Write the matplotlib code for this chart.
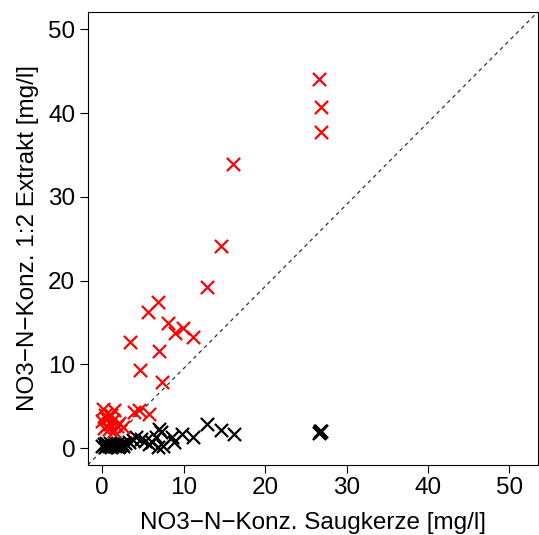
import numpy as np
import matplotlib
matplotlib.use("Agg")
import matplotlib.pyplot as plt

plt.rcParams['font.family'] = ['Liberation Sans', 'DejaVu Sans']

# Extrakt 1:2 vs. Saugkerze (red)
red_x = [26.6, 26.9, 26.8, 16.1, 14.6, 12.8, 6.8, 5.6, 8.1, 9.9, 8.9, 11.1,
         3.4, 7.0, 4.6, 7.3, 3.9, 4.5, 5.7,
         0.1, 1.5, 0.3, 0.0, 0.6, 1.0, 0.4, 1.3, 1.8, 0.8, 2.1, 1.5, 0.2, 2.6, 1.1]
red_y = [44.1, 40.7, 37.7, 33.9, 24.1, 19.2, 17.5, 16.3, 14.9, 14.4, 13.7, 13.3,
         12.7, 11.6, 9.3, 7.9, 4.3, 4.5, 4.1,
         4.7, 4.5, 3.9, 3.2, 3.5, 2.9, 2.7, 3.4, 2.6, 2.3, 3.0, 2.1, 2.4, 2.5, 4.0]

# second series (black)
blk_x = [0.0, 0.2, 0.4, 0.6, 0.8, 1.0, 1.2, 1.4, 1.6, 1.8, 2.0, 2.2, 2.5, 2.8,
         0.3, 1.1, 1.9, 0.5, 1.5, 2.4,
         3.3, 3.8, 4.1, 4.7, 5.3, 5.7, 6.1, 6.6, 6.8, 7.0, 7.2, 7.4, 8.6, 8.8,
         9.8, 11.1, 12.9, 14.6, 16.2,
         26.7, 26.8, 26.6, 26.7]
blk_y = [0.3, 0.5, 0.2, 0.4, 0.3, 0.6, 0.2, 0.4, 0.3, 0.5, 0.2, 0.4, 0.3, 0.6,
         0.1, 0.1, 0.1, 0.6, 0.6, 0.5,
         0.7, 1.0, 1.3, 1.1, 0.9, 0.5, 0.7, 1.3, 0.1, 2.3, 1.9, 0.3, 1.3, 0.7,
         1.7, 1.3, 2.9, 2.2, 1.7,
         1.9, 2.0, 1.8, 2.1]

ticks = [0, 10, 20, 30, 40, 50]

fig = plt.figure(figsize=(5.39, 5.35), dpi=100)
ax = fig.add_axes([0.163, 0.131, 0.835, 0.847])

ax.scatter(blk_x, blk_y, marker='x', s=90, color='black', linewidths=1.6, zorder=3)
ax.scatter(red_x, red_y, marker='x', s=90, color='red', linewidths=1.6, zorder=3)

# 1:1 line
ax.plot([0, 1], [0, 1], transform=ax.transAxes, color='#333333',
        linestyle=(0, (3, 3)), linewidth=0.9, zorder=2)

ax.set_xlim(-1.77, 53.5)
ax.set_ylim(-2.0, 52.1)
ax.set_xticks(ticks)
ax.set_yticks(ticks)
ax.tick_params(direction='out', length=6, width=0.8, labelsize=17.5, pad=3)
for s in ax.spines.values():
    s.set_linewidth(0.8)

ax.set_xlabel('NO3\u2212N\u2212Konz. Saugkerze [mg/l]', fontsize=17.5, labelpad=9)
ax.set_ylabel('NO3\u2212N\u2212Konz. 1:2 Extrakt [mg/l]', fontsize=17.5, labelpad=7)

fig.savefig('out.png', dpi=100)
